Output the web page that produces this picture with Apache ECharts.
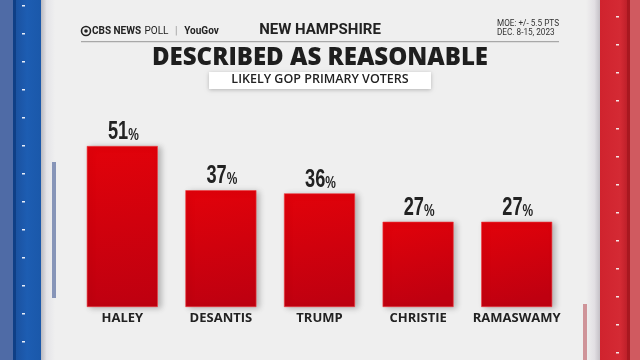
<!DOCTYPE html>
<html><head><meta charset="utf-8">
<script src="https://cdn.jsdelivr.net/npm/echarts@6/dist/echarts.min.js"></script>
<style>html,body{margin:0;padding:0;background:#efefef}#c{width:640px;height:360px}</style>
</head><body><div id="c"></div>
<script>
const categories = ['HALEY', 'DESANTIS', 'TRUMP', 'CHRISTIE', 'RAMASWAMY'];
const values = [51, 37, 36, 27, 27];
const headerBrand = 'YouGov';
const state = 'NEW HAMPSHIRE';
const moe = ['MOE: +/- 5.5 PTS', 'DEC. 8-15, 2023'];
const title = 'DESCRIBED AS REASONABLE';
const subtitle = 'LIKELY GOP PRIMARY VOTERS';

const chart = echarts.init(document.getElementById('c'), null, {renderer: 'canvas'});
const g = [];
g.push({type: 'rect', shape: {x: 0, y: 0, width: 640, height: 360}, style: {fill: '#efefef'}, z: -10});
// left decoration
g.push({type: 'rect', shape: {x: 41, y: 0, width: 14, height: 360}, style: {fill: new echarts.graphic.LinearGradient(0, 0, 1, 0, [{offset: 0, color: '#b9b9c0'}, {offset: 0.4, color: '#e4e4e8'}, {offset: 1, color: '#efefef'}])}, z: -5});
g.push({type: 'rect', shape: {x: 0, y: 0, width: 13, height: 360}, style: {fill: '#4f6ba6'}, z: -4});
g.push({type: 'rect', shape: {x: 13, y: 0, width: 28, height: 360}, style: {fill: new echarts.graphic.LinearGradient(0, 0, 1, 0, [{offset: 0, color: '#1a4f9c'}, {offset: 0.5, color: '#1d5db2'}, {offset: 1, color: '#1a58aa'}])}, z: -4});
g.push({type: 'rect', shape: {x: 13, y: 0, width: 3, height: 360}, style: {fill: '#0f3f86'}, z: -3});
g.push({type: 'rect', shape: {x: 52, y: 162, width: 4, height: 136}, style: {fill: '#8795b8'}, z: -3});
for (let y = 5; y < 360; y += 28) g.push({type: 'rect', shape: {x: 22, y: y, width: 3, height: 1.5}, style: {fill: '#e8eef8'}, z: -2});
// right decoration
g.push({type: 'rect', shape: {x: 586, y: 0, width: 14, height: 360}, style: {fill: new echarts.graphic.LinearGradient(0, 0, 1, 0, [{offset: 0, color: '#efefef'}, {offset: 0.6, color: '#e2dfe3'}, {offset: 1, color: '#c4c0c6'}])}, z: -5});
g.push({type: 'rect', shape: {x: 600, y: 0, width: 29, height: 360}, style: {fill: new echarts.graphic.LinearGradient(0, 0, 1, 0, [{offset: 0, color: '#d0232e'}, {offset: 0.7, color: '#d42a34'}, {offset: 1, color: '#b81d27'}])}, z: -4});
g.push({type: 'rect', shape: {x: 627, y: 0, width: 3, height: 360}, style: {fill: '#a81820'}, z: -3});
g.push({type: 'rect', shape: {x: 630, y: 0, width: 10, height: 360}, style: {fill: '#d05a60'}, z: -4});
g.push({type: 'rect', shape: {x: 583, y: 304, width: 4, height: 56}, style: {fill: '#cf9499'}, z: -3});
for (let y = 16; y < 360; y += 28) g.push({type: 'rect', shape: {x: 616, y: y, width: 3, height: 1.5}, style: {fill: '#f4e6e6'}, z: -2});

// header
g.push({type: 'circle', shape: {cx: 86, cy: 31, r: 4.5}, style: {fill: 'none', stroke: '#222', lineWidth: 1.6}});
g.push({type: 'circle', shape: {cx: 86, cy: 31, r: 1.8}, style: {fill: '#222'}});
g.push({type: 'text', left: 92, top: 25, style: {text: '{b|CBS NEWS} {r|POLL}  {s||}  {y|' + headerBrand + '}', rich: {
  b: {fontFamily: 'Roboto, sans-serif', fontWeight: 'bold', fontSize: 10, fill: '#222'},
  r: {fontFamily: 'Roboto, sans-serif', fontSize: 10, fill: '#222'},
  s: {fontFamily: 'Roboto, sans-serif', fontSize: 10, fill: '#999'},
  y: {fontFamily: 'Roboto, sans-serif', fontWeight: 'bold', fontSize: 10, fill: '#222'}
}}});
g.push({type: 'text', left: 'center', top: 23, style: {text: state, fontFamily: 'Roboto, sans-serif', fontWeight: 'bold', fontSize: 15, fill: '#222'}});
g.push({type: 'text', right: 81, top: 19, style: {text: moe[0] + '\n' + moe[1], align: 'right', fontFamily: 'Roboto, sans-serif', fontSize: 8.2, lineHeight: 9, fill: '#333'}});
g.push({type: 'rect', shape: {x: 81, y: 41, width: 478, height: 1.2}, style: {fill: '#a8a8a8'}});
g.push({type: 'text', left: 'center', top: 46, style: {text: title, fontFamily: 'Open Sans, sans-serif', fontWeight: 800, fontSize: 24, fill: '#1e1e1e'}});
g.push({type: 'rect', shape: {x: 209, y: 72, width: 222, height: 17}, style: {fill: '#ffffff', shadowBlur: 4, shadowColor: 'rgba(0,0,0,0.25)', shadowOffsetY: 1}});
g.push({type: 'text', left: 'center', top: 73, style: {text: subtitle, fontFamily: 'Open Sans, sans-serif', fontWeight: 600, fontSize: 12.5, fill: '#222'}});

const numRich = {
  n: {fontFamily: 'Liberation Sans, Arial, sans-serif', fontWeight: 'bold', fontSize: 26, fill: '#222'},
  p: {fontFamily: 'Liberation Sans, Arial, sans-serif', fontWeight: 'bold', fontSize: 17, fill: '#222', verticalAlign: 'bottom', padding: [0, 0, 1, 0]}
};

chart.setOption({
  animation: false,
  backgroundColor: '#efefef',
  graphic: g,
  grid: {left: 73, right: 74, top: 117.6, bottom: 53},
  xAxis: {type: 'category', data: categories, axisLine: {show: false}, axisTick: {show: false},
    axisLabel: {interval: 0, color: '#222', fontFamily: 'Open Sans, sans-serif', fontWeight: 'bold', fontSize: 13, margin: 5}},
  yAxis: {type: 'value', min: 0, max: 60, show: false, splitLine: {show: false}},
  series: [{
    type: 'bar', data: values, barWidth: 71,
    itemStyle: {
      color: new echarts.graphic.LinearGradient(0, 0, 0.3, 1, [{offset: 0, color: '#e2020a'}, {offset: 1, color: '#bf0010'}]),
      borderColor: '#f03a40', borderWidth: 0.6,
      shadowBlur: 6, shadowOffsetX: 3, shadowOffsetY: 1, shadowColor: 'rgba(0,0,0,0.25)'
    }
  }, {
    type: 'custom', z: 5,
    data: values.map((v, i) => [i, v]),
    encode: {x: 0, y: 1},
    renderItem: function (params, api) {
      const pt = api.coord([api.value(0), api.value(1)]);
      return {
        type: 'text', x: pt[0] + 1, y: pt[1] - 1, scaleX: 0.7, scaleY: 1,
        style: {text: '{n|' + api.value(1) + '}{p|%}', rich: numRich, align: 'center', verticalAlign: 'bottom'}
      };
    }
  }]
});
</script></body></html>
